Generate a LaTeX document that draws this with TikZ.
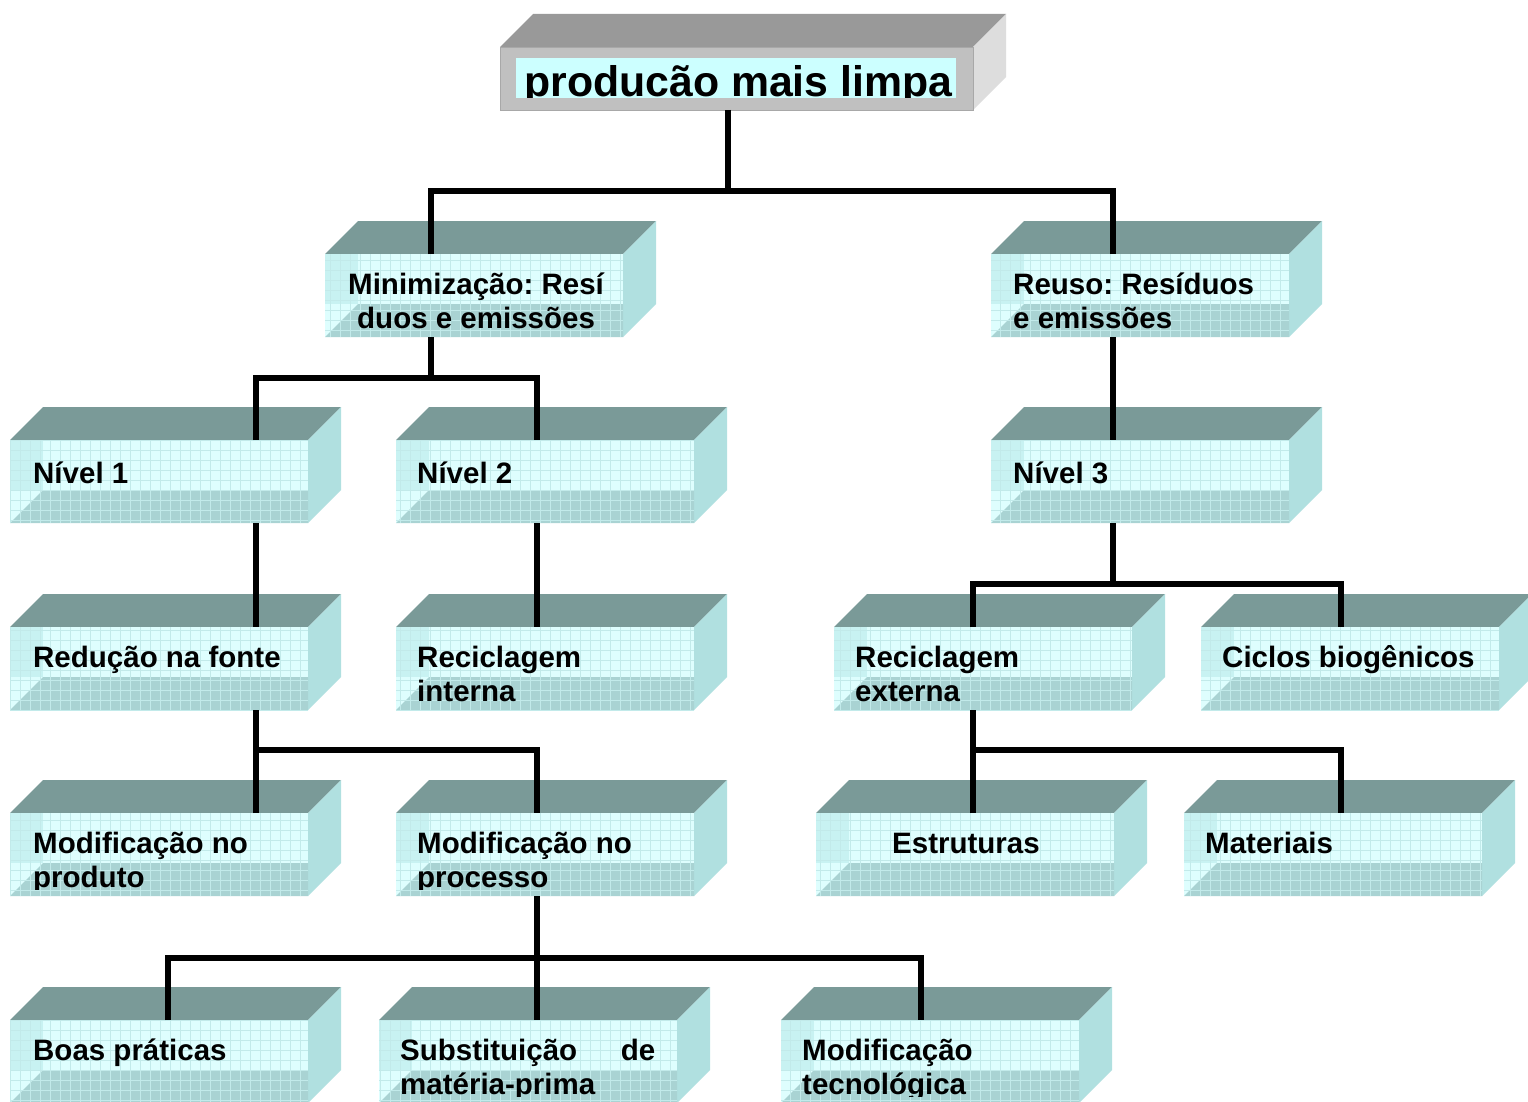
\documentclass[tikz,border=0pt]{standalone}
\usepackage{fontspec}
\setmainfont{Liberation Sans}
\usetikzlibrary{calc}
\definecolor{topc}{HTML}{7A9A98}
\definecolor{sidec}{HTML}{B0E0E0}
\definecolor{frontc}{HTML}{DEFEFE}
\definecolor{leftc}{HTML}{C8F2F2}
\definecolor{floorc}{HTML}{A9D3D3}
\definecolor{gridc}{HTML}{C2EAEA}
\definecolor{ttop}{HTML}{999999}
\definecolor{tside}{HTML}{DDDDDD}
\definecolor{tfront}{HTML}{C0C0C0}
\definecolor{tedge}{HTML}{A8A8A8}
\definecolor{tinner}{HTML}{CCFFFF}
\tikzset{
  frontbox/.style={rectangle, fill=frontc, inner sep=0pt, minimum width=298pt, minimum height=83pt, anchor=north west},
  lbl/.style={anchor=base west, inner sep=0pt, font=\frenchspacing\bfseries\fontsize{29.5}{34}\selectfont},
  conn/.style={line width=6pt, black, line join=miter}
}
\def\tyoff{40}
% #1 name, #2 x, #3 y (front top), #4 connector x, #5 text x offset, #6 line1, #7 line2 offset, #8 line2
\newcommand\cubebox[8]{%
  \fill[topc] (#2,#3) -- (#2+33,#3-33) -- (#2+331,#3-33) -- (#2+298,#3) -- cycle;
  \fill[sidec] (#2+298,#3) -- (#2+331,#3-33) -- (#2+331,#3+50) -- (#2+298,#3+83) -- cycle;
  \node[frontbox] (#1) at (#2,#3) {};
  \begin{scope}
    \clip (#2,#3) rectangle (#2+298,#3+83);
    \fill[leftc] (#2,#3) rectangle (#2+33,#3+50);
    \fill[floorc] (#2,#3+83) -- (#2+33,#3+50) -- (#2+298,#3+50) -- (#2+298,#3+83) -- cycle;
    \draw[gridc, line width=0.8pt, step=10pt] (#2,#3) grid (#2+298,#3+83);
  \end{scope}
  \coordinate (#1-in) at (#4,#3);
  \coordinate (#1-out) at (#4,#3+83);
  \begin{scope}
    \clip (#2,#3) rectangle (#2+298,#3+76);
    \node[lbl] (#1-a) at (#2+#5,#3+\tyoff) {#6};
    \node[lbl] (#1-b) at (#2+#5+#7,#3+74) {#8};
  \end{scope}
}
\begin{document}
\begin{tikzpicture}[x=1pt,y=-1pt]
\useasboundingbox (0,0) rectangle (1528,1102);
\fill[white] (0,0) rectangle (1528,1102);
% title box
\fill[ttop] (500,47) -- (533,14) -- (1006,14) -- (973,47) -- cycle;
\fill[tside] (973,47) -- (1006,14) -- (1006,77) -- (973,110) -- cycle;
\node[rectangle, fill=tfront, draw=tedge, line width=1pt, inner sep=0pt, minimum width=473pt, minimum height=63pt, anchor=north west] (top) at (500,47) {};
\fill[tinner] (516,58) rectangle (956,98);
\begin{scope}
  \clip (516,58) rectangle (956,98);
  \node[anchor=base west, inner sep=0pt, font=\bfseries\fontsize{42.8}{48}\selectfont] (top-t) at (524,97) {producão mais limpa};
\end{scope}
\coordinate (top-out) at (728,110);
% row 1
\cubebox{min}{325}{254}{431}{23}{Minimização: Resí}{9}{duos e emissões}
\cubebox{reuso}{991}{254}{1113}{22}{Reuso: Resíduos}{0}{e emissões}
% row 2
\def\tyoff{43}
\cubebox{n1}{10}{440}{256}{23}{Nível 1}{0}{}
\cubebox{n2}{396}{440}{537}{21}{Nível 2}{0}{}
\cubebox{n3}{991}{440}{1113}{22}{Nível 3}{0}{}
\def\tyoff{40}
% row 3
\cubebox{red}{10}{627}{256}{23}{Redução na fonte}{0}{}
\cubebox{recint}{396}{627}{537}{21}{Reciclagem}{0}{interna}
\cubebox{recext}{834}{627}{973}{21}{Reciclagem}{0}{externa}
\cubebox{ciclos}{1201}{627}{1341}{21}{Ciclos biogênicos}{0}{}
% row 4
\cubebox{mprod}{10}{813}{256}{23}{Modificação no}{0}{produto}
\cubebox{mproc}{396}{813}{537}{21}{Modificação no}{0}{processo}
\cubebox{estr}{816}{813}{973}{76}{Estruturas}{0}{}
\cubebox{mat}{1184}{813}{1341}{21}{Materiais}{0}{}
% row 5
\cubebox{boas}{10}{1020}{168}{23}{Boas práticas}{0}{}
\cubebox{subst}{379}{1020}{537}{21}{\hbox to 255pt{Substituição\hfill de}}{0}{matéria-prima}
\cubebox{mtec}{781}{1020}{921}{21}{Modificação}{0}{tecnológica}
% connectors
\draw[conn] (top-out) -- ++(0,81) coordinate (j0);
\draw[conn] (min-in) -- (min-in |- j0) -- (reuso-in |- j0) -- (reuso-in);
\draw[conn] (min-out) -- ++(0,41) coordinate (j1);
\draw[conn] (n1-in) -- (n1-in |- j1) -- (n2-in |- j1) -- (n2-in);
\draw[conn] (reuso-out) -- (n3-in);
\draw[conn] (n1-out) -- (red-in);
\draw[conn] (n2-out) -- (recint-in);
\draw[conn] (n3-out) -- ++(0,61) coordinate (j3);
\draw[conn] (recext-in) -- (recext-in |- j3) -- (ciclos-in |- j3) -- (ciclos-in);
\draw[conn] (red-out) -- ++(0,40) coordinate (j4);
\draw[conn] (mprod-in) -- (mprod-in |- j4) -- (mproc-in |- j4) -- (mproc-in);
\draw[conn] (recext-out) -- ++(0,40) coordinate (j5);
\draw[conn] (estr-in) -- (estr-in |- j5) -- (mat-in |- j5) -- (mat-in);
\draw[conn] (mproc-out) -- ++(0,62) coordinate (j6);
\draw[conn] (boas-in) -- (boas-in |- j6) -- (mtec-in |- j6) -- (mtec-in);
\draw[conn] (mproc-out) -- (subst-in);
\end{tikzpicture}
\end{document}
